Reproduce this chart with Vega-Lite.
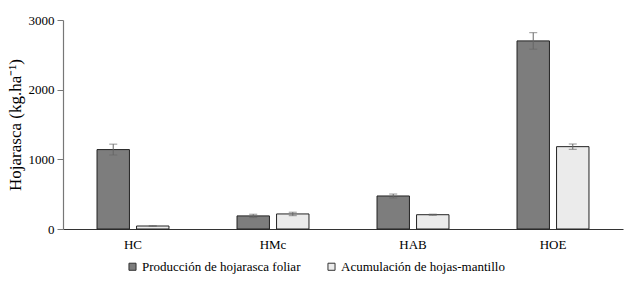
{
  "$schema": "https://vega.github.io/schema/vega-lite/v6.json",
  "width": 560,
  "height": 209,
  "autosize": {"type": "none"},
  "padding": {"left": 63, "top": 20, "right": 4, "bottom": 60},
  "background": "white",
  "config": {
    "view": {"stroke": null},
    "font": "Liberation Serif",
    "axis": {"labelFont": "Liberation Serif", "titleFont": "Liberation Serif", "labelColor": "#000", "titleColor": "#000", "grid": false}
  },
  "data": {
    "values": [
      {"sitio": "HC", "serie": "Producción de hojarasca foliar", "valor": 1140, "err": 78},
      {"sitio": "HC", "serie": "Acumulación de hojas-mantillo", "valor": 43, "err": 5},
      {"sitio": "HMc", "serie": "Producción de hojarasca foliar", "valor": 188, "err": 24},
      {"sitio": "HMc", "serie": "Acumulación de hojas-mantillo", "valor": 216, "err": 25},
      {"sitio": "HAB", "serie": "Producción de hojarasca foliar", "valor": 474, "err": 28},
      {"sitio": "HAB", "serie": "Acumulación de hojas-mantillo", "valor": 205, "err": 8},
      {"sitio": "HOE", "serie": "Producción de hojarasca foliar", "valor": 2700, "err": 118},
      {"sitio": "HOE", "serie": "Acumulación de hojas-mantillo", "valor": 1182, "err": 38}
    ]
  },
  "transform": [
    {"calculate": "datum.valor - datum.err", "as": "lo"},
    {"calculate": "datum.valor + datum.err", "as": "hi"}
  ],
  "encoding": {
    "x": {
      "field": "sitio", "type": "nominal", "sort": ["HC", "HMc", "HAB", "HOE"],
      "scale": {"paddingInner": 0.486, "paddingOuter": 0.243},
      "axis": {"title": null, "labelAngle": 0, "ticks": false, "labelFontSize": 13, "labelPadding": 9, "domainColor": "#333", "domainWidth": 1.2}
    },
    "xOffset": {
      "field": "serie", "type": "nominal",
      "sort": ["Producción de hojarasca foliar", "Acumulación de hojas-mantillo"],
      "scale": {"paddingInner": 0.18, "paddingOuter": 0}
    }
  },
  "layer": [
    {
      "mark": {"type": "bar", "stroke": "#222", "strokeWidth": 1},
      "encoding": {
        "y": {
          "field": "valor", "type": "quantitative",
          "scale": {"domain": [0, 3000]},
          "axis": {"title": "Hojarasca (kg.ha⁻¹)", "titleFontSize": 17, "titleFontWeight": "normal", "titlePadding": 4, "labelFontSize": 13, "format": "d", "values": [0, 500, 1000, 1500, 2000, 2500, 3000], "domainColor": "#777", "domainWidth": 1.2, "tickColor": "#777", "tickSize": 6, "labelPadding": 3}
        },
        "fill": {
          "field": "serie", "type": "nominal",
          "sort": ["Producción de hojarasca foliar", "Acumulación de hojas-mantillo"],
          "scale": {"range": ["#7d7d7d", "#ebebeb"]},
          "legend": {
            "title": null, "orient": "none", "legendX": 63, "legendY": 240,
            "direction": "horizontal", "symbolType": "square", "symbolSize": 50,
            "symbolStrokeColor": "#333", "symbolStrokeWidth": 1,
            "labelFontSize": 13, "labelFont": "Liberation Serif", "labelColor": "#000",
            "columnPadding": 24, "labelOffset": 3, "labelLimit": 300
          }
        }
      }
    },
    {
      "mark": {"type": "rule", "color": "#666", "strokeWidth": 1},
      "encoding": {
        "y": {"field": "lo", "type": "quantitative"},
        "y2": {"field": "hi"}
      }
    },
    {
      "mark": {"type": "tick", "color": "#666", "thickness": 1, "size": 8},
      "encoding": {"y": {"field": "hi", "type": "quantitative"}}
    },
    {
      "mark": {"type": "tick", "color": "#666", "thickness": 1, "size": 8},
      "encoding": {"y": {"field": "lo", "type": "quantitative"}}
    }
  ]
}
